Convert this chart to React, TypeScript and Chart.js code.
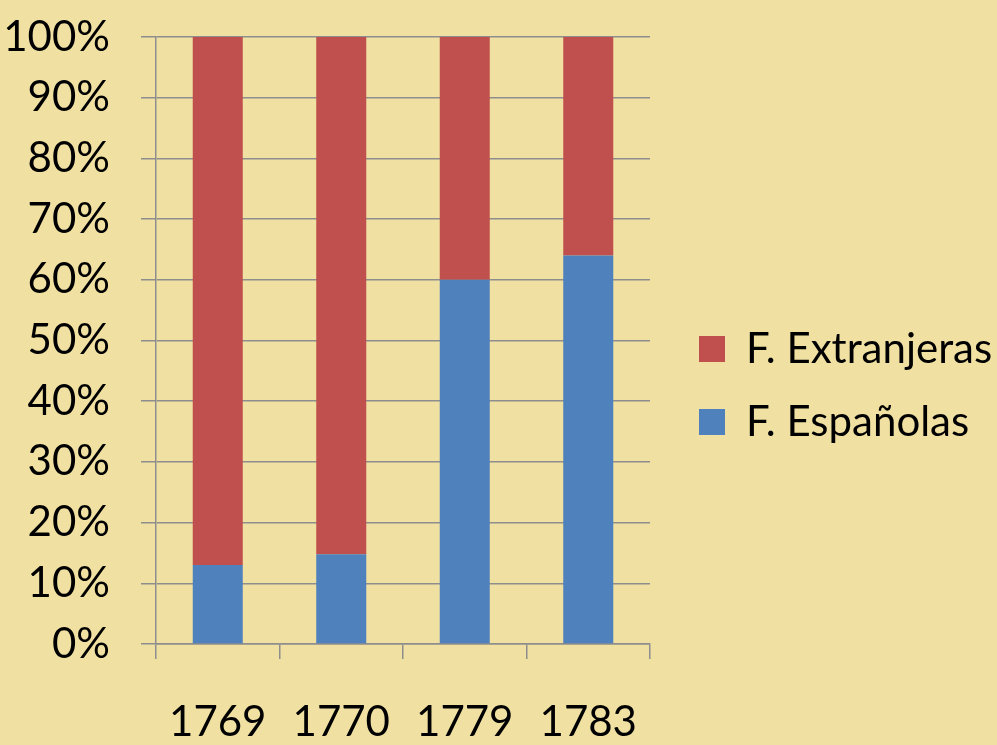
import React, { useEffect, useRef } from 'react';
import { Chart, registerables } from 'chart.js';

Chart.register(...registerables);

const categories = ['1769', '1770', '1779', '1783'];
const espanolas = [13, 14.8, 60, 64];
const extranjeras = [87, 85.2, 40, 36];
const seriesNames = ['F. Españolas', 'F. Extranjeras'];
const yTickStep = 10;

const BG = '#F0E1A2';
const GRID = '#8E8E8E';
const FONT_FAMILY = 'Lato, "Open Sans", sans-serif';
const FONT_SIZE = 42;

export default function App() {
  const ref = useRef<HTMLCanvasElement>(null);

  useEffect(() => {
    document.body.style.margin = '0';
    const canvas = ref.current!;
    const mctx = document.createElement('canvas').getContext('2d')!;
    mctx.font = `${FONT_SIZE}px ${FONT_FAMILY}`;
    const textW = Math.max(...seriesNames.map((s) => mctx.measureText(s).width));
    const legendPad = 31;
    const boxW = 26;
    const legendLeft = 699 - legendPad;
    const legendWidth = legendPad + boxW + FONT_SIZE / 2 + textW + 10;
    const rightPad = 997 - (legendLeft + legendWidth);
    const legendFirstTop = 349 - FONT_SIZE / 2;
    const topPad = 37;
    const titleGap = legendFirstTop - topPad - legendPad - 12;

    const font = { family: FONT_FAMILY, size: FONT_SIZE };
    const chart = new Chart(canvas, {
      type: 'bar',
      data: {
        labels: categories,
        datasets: [
          { label: seriesNames[0], data: espanolas, backgroundColor: '#4F81BD', borderWidth: 0 },
          { label: seriesNames[1], data: extranjeras, backgroundColor: '#C0504D', borderWidth: 0 },
        ],
      },
      options: {
        responsive: false,
        animation: false,
        layout: { padding: { top: topPad, bottom: 0, left: 0, right: rightPad } },
        datasets: { bar: { barPercentage: 0.405, categoryPercentage: 1 } },
        plugins: {
          legend: {
            position: 'right',
            align: 'start',
            reverse: true,
            maxWidth: 420,
            title: {
              display: true,
              text: '',
              font: { size: 10, lineHeight: 1.2 },
              padding: { top: titleGap, bottom: 0, left: 0, right: 0 },
            },
            labels: {
              boxWidth: boxW,
              boxHeight: boxW,
              padding: legendPad,
              color: '#000',
              font,
            },
          },
          tooltip: { enabled: false },
        },
        scales: {
          x: {
            stacked: true,
            grid: {
              offset: true,
              drawOnChartArea: false,
              drawTicks: true,
              tickLength: 15,
              color: GRID,
              lineWidth: 1.5,
            },
            border: { display: true, color: GRID, width: 1.5 },
            ticks: { color: '#000', font, padding: 38, maxRotation: 0, autoSkip: false },
            afterFit: (s: any) => {
              s.height = 101;
              s.paddingLeft = 0;
              s.paddingRight = 0;
            },
          },
          y: {
            stacked: true,
            min: 0,
            max: 100,
            ticks: {
              stepSize: yTickStep,
              callback: (v: any) => v + '%',
              padding: 31,
              color: '#000',
              font,
            },
            grid: { color: GRID, lineWidth: 1.5, tickLength: 15, drawTicks: true },
            border: { display: true, color: GRID, width: 1.5 },
            afterFit: (s: any) => {
              s.width = 156;
              s.paddingTop = 0;
              s.paddingBottom = 0;
            },
          },
          gap: {
            type: 'linear',
            position: 'right',
            display: true,
            grid: { display: false },
            border: { display: false },
            ticks: { display: false },
            afterFit: (s: any) => {
              s.width = legendLeft - 650;
              s.paddingTop = 0;
              s.paddingBottom = 0;
            },
          },
        },
      },
    } as any);
    return () => chart.destroy();
  }, []);

  return (
    <div style={{ position: 'absolute', left: 0, top: 0, width: 997, height: 745, background: BG }}>
      <canvas ref={ref} width={997} height={745} style={{ display: 'block' }} />
    </div>
  );
}
